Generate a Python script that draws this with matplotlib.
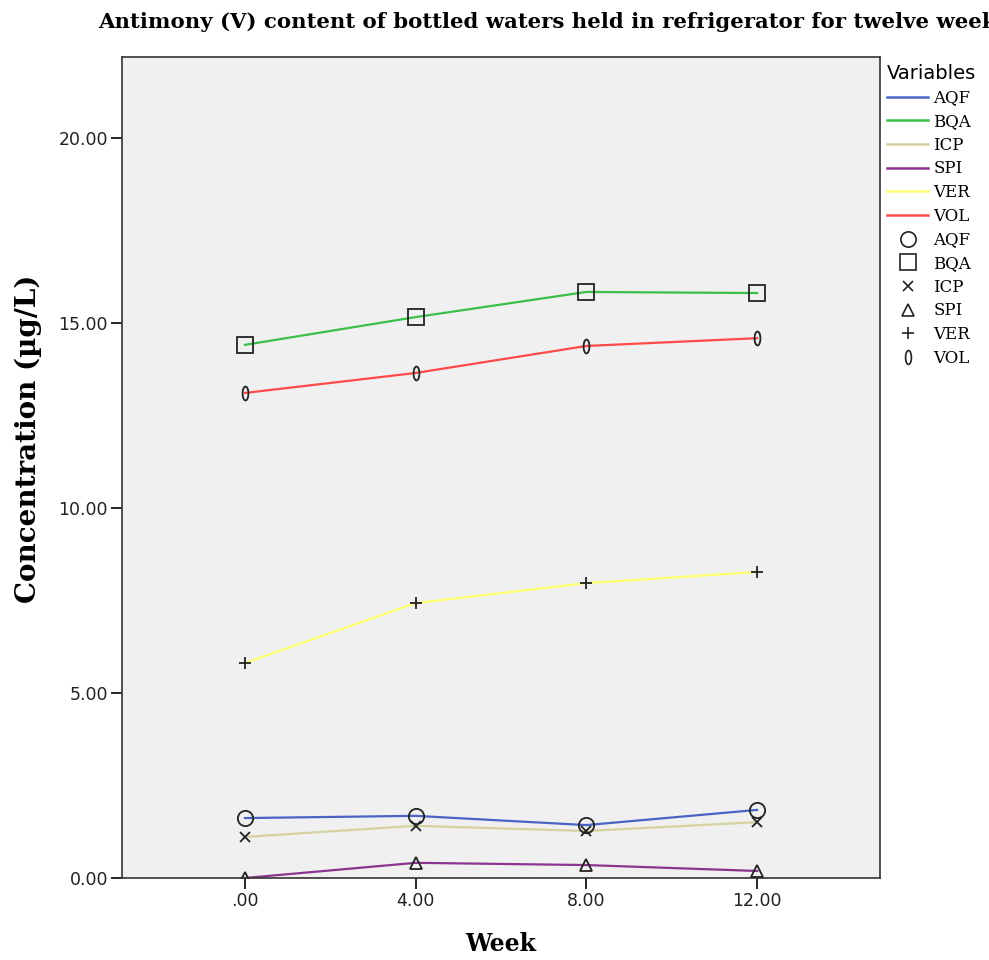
import numpy as np
import matplotlib
matplotlib.use("Agg")
import matplotlib.pyplot as plt
from matplotlib.lines import Line2D
from matplotlib.path import Path

# Antimony (V) in bottled waters, refrigerator, 12 weeks
weeks = [0, 4, 8, 12]
names = ['AQF', 'BQA', 'ICP', 'SPI', 'VER', 'VOL']
aqf = [1.62, 1.68, 1.43, 1.84]
bqa = [14.41, 15.16, 15.84, 15.81]
icp = [1.11, 1.41, 1.27, 1.51]
spi = [0.00, 0.41, 0.35, 0.19]
ver = [5.81, 7.43, 7.97, 8.27]
vol = [13.11, 13.65, 14.38, 14.59]
xticklabels = ['.00', '4.00', '8.00', '12.00']
yticks = [0, 5, 10, 15, 20]
yticklabels = ['0.00', '5.00', '10.00', '15.00', '20.00']

series = [aqf, bqa, icp, spi, ver, vol]
colors = ['#4a64c4', '#3cbf4a', '#d6d1a0', '#8b3590', '#ffff70', '#ff4a4a']

# narrow ellipse for VOL ("0"-like marker)
t = np.linspace(0, 2*np.pi, 40)
ell = Path(np.column_stack([0.42*np.cos(t), np.sin(t)]))
markers = ['o', 's', 'x', '^', '+', ell]
msizes = [11, 11, 7, 8, 9, 10]

fig = plt.figure(figsize=(9.89, 9.60), dpi=100)
ax = fig.add_axes([122/989, 1-878/960, (880-122)/989, (878-57)/960])
ax.set_facecolor('#f0f0f0')

for s, c in zip(series, colors):
    ax.plot(weeks, s, color=c, lw=1.6, zorder=2)
for s, m, ms in zip(series, markers, msizes):
    ax.plot(weeks, s, linestyle='none', marker=m, markersize=ms,
            markerfacecolor='none', markeredgecolor='#222222', mew=1.3, zorder=3)

ax.set_xlim(-2.88, 14.88)
ax.set_ylim(0, 22.19)
ax.set_xticks(weeks)
ax.set_xticklabels(xticklabels)
ax.set_yticks(yticks)
ax.set_yticklabels(yticklabels)
ax.tick_params(direction='out', length=8, width=1.2, labelsize=12.5, pad=2)
for lab in ax.get_xticklabels() + ax.get_yticklabels():
    lab.set_family('DejaVu Sans')
    lab.set_color('#222222')
for sp in ax.spines.values():
    sp.set_color('#333333')
    sp.set_linewidth(1.2)

ax.set_xlabel('Week', family='DejaVu Serif', fontweight='bold', fontsize=17, labelpad=16)
ax.set_ylabel('Concentration (µg/L)', family='DejaVu Serif', fontweight='bold', fontsize=20)
ax.yaxis.set_label_coords(-0.106, 0.535)

# the reference title runs past the right edge, kept that way
fig.text(98/989, 1-22/960, 'Antimony (V) content of bottled waters held in refrigerator for twelve weeks',
         family='DejaVu Serif', fontweight='bold', fontsize=15.3, va='center', ha='left')

handles = [Line2D([], [], color=c, lw=1.8) for c in colors]
handles += [Line2D([], [], linestyle='none', marker=m, markersize=ms, markerfacecolor='none',
                   markeredgecolor='#222222', mew=1.2) for m, ms in zip(markers, msizes)]
labels = names + names
leg = ax.legend(handles, labels, title='Variables', loc='upper left', bbox_to_anchor=(1.0, 1.0),
                frameon=False, handlelength=2.5, handletextpad=0.3, labelspacing=0.4,
                borderaxespad=0.15, borderpad=0.25,
                prop={'family': 'DejaVu Serif', 'size': 12})
leg.get_title().set_family('DejaVu Sans')
leg.get_title().set_fontsize(14)
leg._legend_box.align = 'left'

fig.savefig('out.png', dpi=100)
